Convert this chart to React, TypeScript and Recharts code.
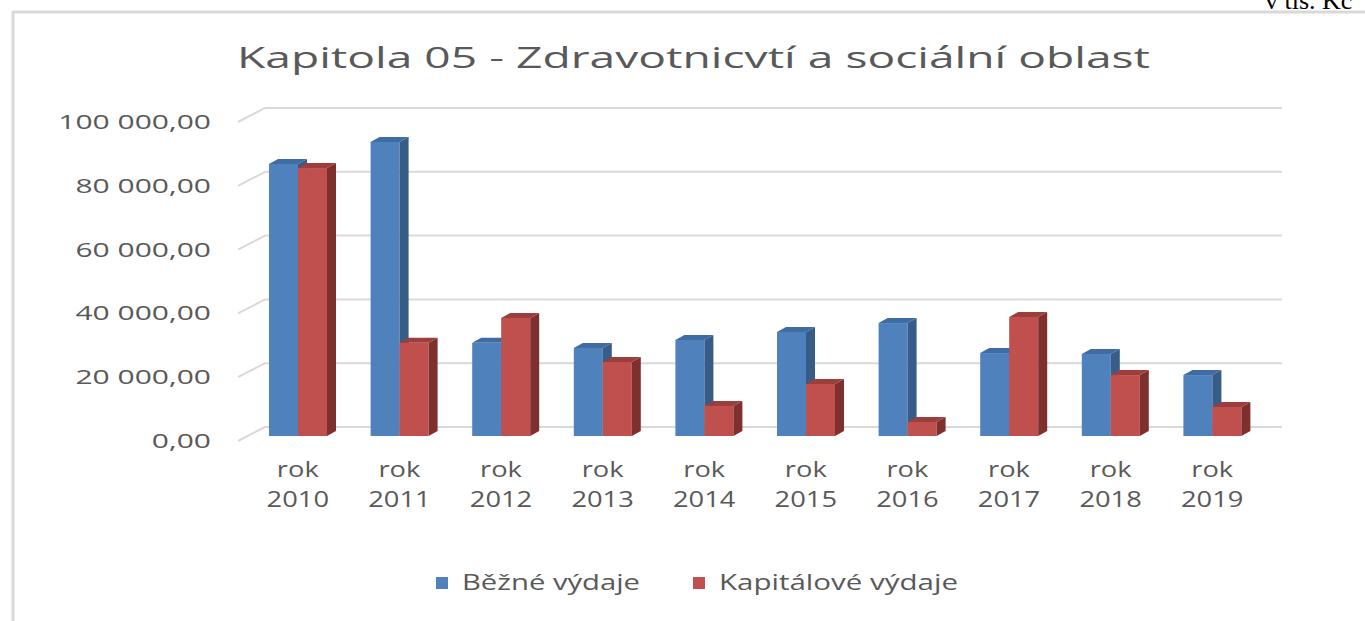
import { BarChart, Bar, XAxis, YAxis, CartesianGrid } from 'recharts'

// hodnoty v tis. Kč
const years = ['2010', '2011', '2012', '2013', '2014', '2015', '2016', '2017', '2018', '2019']
const bezneVydaje = [85300, 92200, 29200, 27600, 30100, 32600, 35400, 26000, 25700, 19100]
const kapitaloveVydaje = [84000, 29200, 37000, 23200, 9400, 16300, 4400, 37300, 19100, 9100]
const yTicks = [0, 20000, 40000, 60000, 80000, 100000]

const series = [
  { key: 'bezne', name: 'Běžné výdaje', front: '#4F81BD', side: '#385C88', top: '#3F6CA3' },
  { key: 'kapitalove', name: 'Kapitálové výdaje', front: '#C0504D', side: '#7E302E', top: '#9C3F3C' },
]

const data = years.map((year, i) => ({
  year,
  bezne: bezneVydaje[i],
  kapitalove: kapitaloveVydaje[i],
}))

const FONT = '"Open Sans", "DejaVu Sans", sans-serif'
const TEXT = '#595959'
const GRID = '#D9D9D9'
const DEPTH_X = 18
const DEPTH_Y = -9

const fmt = (v: number) =>
  Math.round(v)
    .toString()
    .replace(/\B(?=(\d{3})+(?!\d))/g, ' ') + ',00'

function Box3D(props: any) {
  const { x, y, width, height, colors } = props
  if (!height || height <= 0) return null
  const dx = 9
  const dy = -5
  const r = x + width
  return (
    <g>
      <rect x={x} y={y} width={width} height={height} fill={colors.front} />
      <polygon
        points={`${r},${y} ${r + dx},${y + dy} ${r + dx},${y + height + dy} ${r},${y + height}`}
        fill={colors.side}
      />
      <polygon
        points={`${x},${y} ${x + dx},${y + dy} ${r + dx},${y + dy} ${r},${y}`}
        fill={colors.top}
      />
    </g>
  )
}

function YTick({ x, y, payload }: any) {
  return (
    <g>
      <line x1={x - 9} y1={y + 5} x2={x + DEPTH_X} y2={y + DEPTH_Y} stroke={GRID} strokeWidth={2} />
      <g transform={`translate(${x - 36}, ${y + 12}) scale(1.5, 1)`}>
        <text x={0} y={0} textAnchor="end" fill={TEXT} fontSize={20} fontFamily={FONT}>
          {fmt(payload.value)}
        </text>
      </g>
    </g>
  )
}

function XTick({ x, y, payload }: any) {
  return (
    <g transform={`translate(${x}, ${y}) scale(1.3, 1)`}>
      <text textAnchor="middle" fill={TEXT} fontSize={21} fontFamily={FONT}>
        <tspan x={0} y={41}>rok</tspan>
        <tspan x={0} y={71}>{payload.value}</tspan>
      </text>
    </g>
  )
}

export default function App() {
  return (
    <div
      style={{
        position: 'absolute',
        left: 0,
        top: 0,
        width: 1365,
        height: 621,
        background: '#fff',
        overflow: 'hidden',
      }}
    >
      <BarChart
        width={1365}
        height={621}
        data={data}
        margin={{ top: 117, right: 102, bottom: 125, left: 0 }}
        barSize={29}
        barGap={0}
      >
        <CartesianGrid
          vertical={false}
          horizontal={(p: any) => (
            <line
              key={p.key}
              x1={p.x1 + DEPTH_X}
              x2={p.x2 + DEPTH_X + 1}
              y1={p.y1 + DEPTH_Y}
              y2={p.y2 + DEPTH_Y}
              stroke={GRID}
              strokeWidth={2}
            />
          )}
        />
        <XAxis
          dataKey="year"
          axisLine={false}
          tickLine={false}
          tickSize={0}
          tickMargin={0}
          height={60}
          interval={0}
          tick={<XTick />}
        />
        <YAxis
          width={247}
          domain={[0, 100000]}
          ticks={yTicks}
          axisLine={false}
          tickLine={false}
          tickSize={0}
          tickMargin={0}
          tick={<YTick />}
        />
        {series.map((s) => (
          <Bar
            key={s.key}
            dataKey={s.key}
            name={s.name}
            fill={s.front}
            isAnimationActive={false}
            shape={(p: any) => <Box3D {...p} colors={s} />}
          />
        ))}
      </BarChart>

      <svg
        width={1365}
        height={621}
        style={{ position: 'absolute', left: 0, top: 0, pointerEvents: 'none' }}
      >
        <line x1={13} y1={12} x2={1365} y2={12} stroke={GRID} strokeWidth={3} />
        <line x1={13} y1={11} x2={13} y2={621} stroke={GRID} strokeWidth={3} />
        <text x={1265} y={9} fontSize={26} fontFamily='"Liberation Serif", serif' fill="#000">
          v tis. Kč
        </text>
        <text
          x={237}
          y={68}
          fontSize={30}
          fontFamily={FONT}
          fill={TEXT}
          textLength={913}
          lengthAdjust="spacingAndGlyphs"
        >
          Kapitola 05 - Zdravotnicvtí a sociální oblast
        </text>
        {series.map((s, i) => {
          const sx = i === 0 ? 436 : 693
          const w = i === 0 ? 178 : 239
          return (
            <g key={s.key}>
              <rect x={sx} y={577} width={12} height={12} fill={s.front} />
              <text
                x={sx + 26}
                y={590}
                fontSize={21}
                fontFamily={FONT}
                fill={TEXT}
                textLength={w}
                lengthAdjust="spacingAndGlyphs"
              >
                {s.name}
              </text>
            </g>
          )
        })}
      </svg>
    </div>
  )
}
